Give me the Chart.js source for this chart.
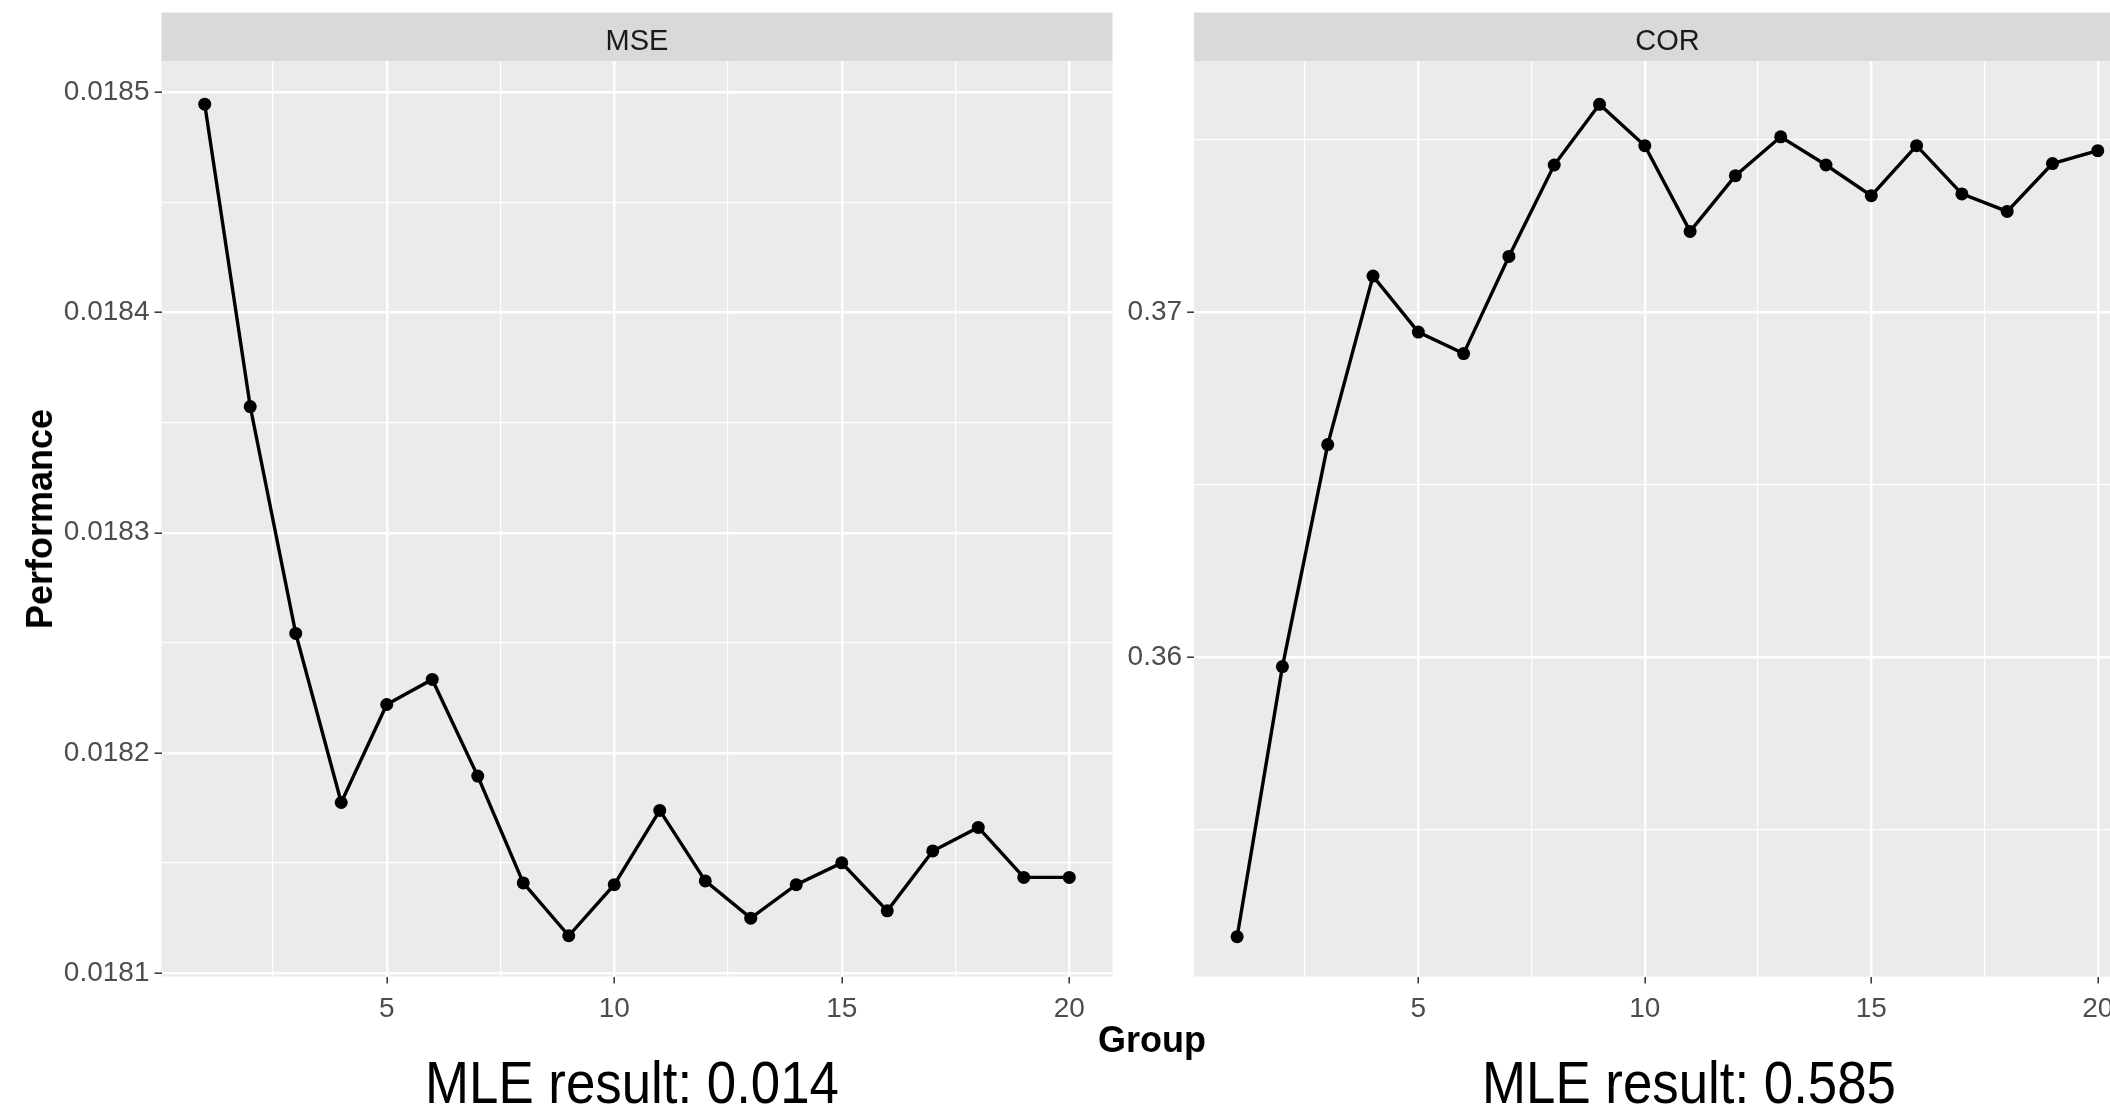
<!DOCTYPE html>
<html>
<head>
<meta charset="utf-8">
<title>MSE / COR by group</title>
<script src="https://cdn.jsdelivr.net/npm/chart.js@4.4.1/dist/chart.umd.min.js"></script>
<style>
    html, body { margin: 0; padding: 0; background: #fff; overflow: hidden; }
    #wrap { position: relative; width: 2110px; height: 1107px; overflow: hidden; }
    .panel { position: absolute; top: 0; height: 1107px; }
    #mse-box { left: 0; width: 1120px; }
    #cor-box { left: 1115px; width: 1045px; }
    .lbl {
        position: absolute; white-space: nowrap; line-height: 1; color: #000;
        font-family: "Liberation Sans", Arial, sans-serif;
    }
    #y-title { left: 39.5px; top: 518.75px; font-size: 36px; font-weight: bold;
               transform: translate(-50%, -50%) rotate(-90deg); }
    #group-title { left: 1152px; top: 1021.5px; font-size: 36px; font-weight: bold;
                   transform: translateX(-50%); }
    .mle { top: 1053px; font-size: 60px; transform: translateX(-50%) scaleX(0.88); }
</style>
</head>
<body>
<div id="wrap">
    <div class="panel" id="mse-box"><canvas id="mse"></canvas></div>
    <div class="panel" id="cor-box"><canvas id="cor"></canvas></div>
    <div class="lbl" id="y-title">Performance</div>
    <div class="lbl" id="group-title">Group</div>
    <div class="lbl mle" style="left:632px">MLE result: 0.014</div>
    <div class="lbl mle" style="left:1689px">MLE result: 0.585</div>
</div>
<script>
// Values (x = group 1..20).
const groups = [1, 2, 3, 4, 5, 6, 7, 8, 9, 10, 11, 12, 13, 14, 15, 16, 17, 18, 19, 20];
const mseValues = [0.0184946, 0.0183573, 0.0182543, 0.0181775, 0.0182220,
                   0.0182334, 0.0181895, 0.0181410, 0.0181170, 0.0181402,
                   0.0181739, 0.0181419, 0.0181250, 0.0181402, 0.0181501,
                   0.0181283, 0.0181555, 0.0181662, 0.0181435, 0.0181435];
const corValues = [0.351907, 0.359736, 0.366171, 0.371055, 0.369432,
                   0.368809, 0.371626, 0.374275, 0.376035, 0.374835,
                   0.372351, 0.373965, 0.375093, 0.374275, 0.373386,
                   0.374835, 0.373438, 0.372930, 0.374316, 0.374690];

// Axis limits (ggplot's 5% expansion around the data)
const xLimits = [0.05, 20.95];
const mseLimits = [0.0180985, 0.0185142];
const corLimits = [0.350754, 0.377290];

// Tick marks: labelled majors plus unlabelled minor grid lines
const xMajorTicks = [5, 10, 15, 20];
const xTickLabels = ["5", "10", "15", "20"];
const xMinorTicks = [2.5, 7.5, 12.5, 17.5];
const mseMajorTicks = [0.0181, 0.0182, 0.0183, 0.0184, 0.0185];
const mseTickLabels = ["0.0181", "0.0182", "0.0183", "0.0184", "0.0185"];
const mseMinorTicks = [0.01815, 0.01825, 0.01835, 0.01845];
const corMajorTicks = [0.36, 0.37];
const corTickLabels = ["0.36", "0.37"];
const corMinorTicks = [0.355, 0.365, 0.375];

const FONT = '"Liberation Sans", Arial, sans-serif';
Chart.defaults.font.family = FONT;

function tickList(major, labels, minor) {
    return major.map((v, i) => ({ value: v, text: labels[i], isMajor: true }))
        .concat(minor.map((v) => ({ value: v, text: "", isMajor: false })))
        .sort((a, b) => a.value - b.value);
}

// grey panel + facet strip, drawn under the grid
const facetPanel = {
    id: "facetPanel",
    beforeDraw(chart, args, opts) {
        const { ctx, chartArea: a } = chart;
        ctx.save();
        ctx.fillStyle = "#EBEBEB";
        ctx.fillRect(a.left, a.top, a.right - a.left, a.bottom - a.top);
        ctx.fillStyle = "#D9D9D9";
        ctx.fillRect(a.left, 12.5, a.right - a.left, a.top - 12.5);
        ctx.fillStyle = "#1A1A1A";
        ctx.font = "29px " + FONT;
        ctx.textAlign = "center";
        ctx.textBaseline = "alphabetic";
        ctx.fillText(opts.label, (a.left + a.right) / 2, 50);
        ctx.restore();
    },
};

const gridStyle = () => ({
    color: "#FFFFFF",
    lineWidth: (c) => (c.tick && c.tick.isMajor ? 2.4 : 1.2),
    tickColor: (c) => (c.tick && c.tick.isMajor ? "#333333" : "rgba(0,0,0,0)"),
    tickWidth: 1.5,
    tickLength: 7,
    drawTicks: true,
});
const tickStyle = (pad) => ({
    color: "#4D4D4D",
    font: { size: 28 },
    padding: pad,
    autoSkip: false,
    maxRotation: 0,
    callback: (v, i, ticks) => ticks[i].text,
});

function makePanel(canvasId, o) {
    return new Chart(document.getElementById(canvasId), {
        type: "line",
        data: {
            datasets: [{
                data: groups.map((g, i) => ({ x: g, y: o.values[i] })),
                borderColor: "#000",
                backgroundColor: "#000",
                borderWidth: 3.4,
                pointRadius: 6.5,
                pointBorderWidth: 0,
                pointBackgroundColor: "#000",
                tension: 0,
                clip: false,
            }],
        },
        options: {
            responsive: true,
            maintainAspectRatio: false,
            animation: false,
            layout: { padding: { top: 61, right: o.padRight, bottom: 0, left: 0 } },
            plugins: {
                legend: { display: false },
                tooltip: { enabled: false },
                facetPanel: { label: o.strip },
            },
            scales: {
                x: {
                    type: "linear",
                    min: xLimits[0],
                    max: xLimits[1],
                    bounds: "data",
                    afterBuildTicks: (axis) => { axis.ticks = tickList(xMajorTicks, xTickLabels, xMinorTicks); },
                    afterFit: (axis) => { axis.height = 130.5; },
                    grid: gridStyle(),
                    border: { display: false },
                    ticks: tickStyle(9),
                },
                y: {
                    type: "linear",
                    min: o.limits[0],
                    max: o.limits[1],
                    bounds: "data",
                    afterBuildTicks: (axis) => { axis.ticks = tickList(o.major, o.labels, o.minor); },
                    afterFit: (axis) => { axis.width = o.axisWidth; },
                    grid: gridStyle(),
                    border: { display: false },
                    ticks: tickStyle(5),
                },
            },
        },
        plugins: [facetPanel],
    });
}

makePanel("mse", {
    values: mseValues, limits: mseLimits, strip: "MSE",
    major: mseMajorTicks, labels: mseTickLabels, minor: mseMinorTicks,
    axisWidth: 161.5, padRight: 7.5,
});
makePanel("cor", {
    values: corValues, limits: corLimits, strip: "COR",
    major: corMajorTicks, labels: corTickLabels, minor: corMinorTicks,
    axisWidth: 79.1, padRight: 19.2,
});
</script>
</body>
</html>
